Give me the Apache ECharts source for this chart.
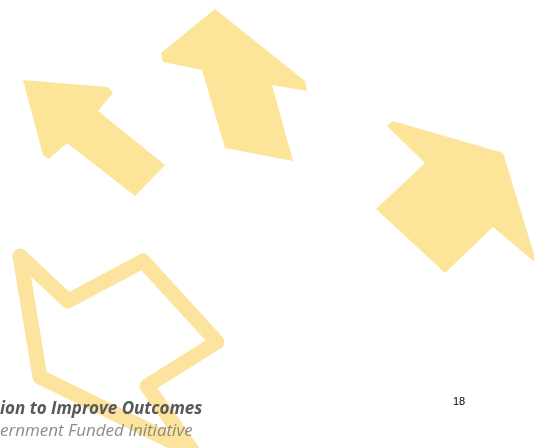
<!DOCTYPE html>
<html>
<head>
<meta charset="utf-8">
<script src="https://cdn.jsdelivr.net/npm/echarts@6/dist/echarts.min.js"></script>
<style>
html,body{margin:0;padding:0;background:#fff;}
#main{width:534px;height:448px;}
</style>
</head>
<body>
<div id="main"></div>
<script>
// Shape vertices in slide units (x: 0..534, y: 0..448 from the top)
const arrowUpLeft = [[23,80],[108,87],[113,93],[98,111],[165,165],[135,196],[67,143],[49,159],[43,155]];
const arrowUp = [[215,9],[305,81],[307,91],[272,85],[293,161],[225,148],[202,70],[163,62],[161,53]];
const arrowRight = [[393,121],[503,153],[537,264],[493,227],[445,273],[376,209],[425,163],[387,126]];
const arrowOutline = [[20,256],[68,301],[143,261],[217,342],[147,386],[193,452],[40,377]];
const filledShapes = [arrowUpLeft, arrowUp, arrowRight];
const outlineShapes = [arrowOutline];
const footerLine1 = 'ion to Improve Outcomes';
const footerLine2 = 'ernment Funded Initiative';
const pageNumber = '18';

const chart = echarts.init(document.getElementById('main'));

function polyRender(fill) {
  return function (params, api) {
    const shape = (fill ? filledShapes : outlineShapes)[params.dataIndex];
    const pts = shape.map(p => api.coord(p));
    return {
      type: 'polygon',
      shape: { points: pts },
      style: fill
        ? { fill: '#FCE598', stroke: null }
        : { fill: 'none', stroke: '#FDE49E', lineWidth: 15, lineJoin: 'round' },
      silent: true
    };
  };
}

chart.setOption({
  animation: false,
  backgroundColor: '#ffffff',
  grid: { left: 0, right: 0, top: 0, bottom: 0 },
  xAxis: { type: 'value', min: 0, max: 534, show: false },
  yAxis: { type: 'value', min: 0, max: 448, inverse: true, show: false },
  series: [
    {
      type: 'custom',
      renderItem: polyRender(true),
      data: filledShapes.map((s, i) => [i]),
      clip: false,
      z: 1
    },
    {
      type: 'custom',
      renderItem: polyRender(false),
      data: outlineShapes.map((s, i) => [i]),
      clip: false,
      z: 1
    }
  ],
  graphic: [
    {
      type: 'text', left: 0, top: 401, z: 10,
      style: { text: footerLine1, fill: '#58585a', font: 'italic 700 17px "Open Sans", sans-serif' }
    },
    {
      type: 'text', left: 0, top: 423, z: 10,
      style: { text: footerLine2, fill: 'rgba(120,120,120,0.85)', font: 'italic 400 17px "Open Sans", sans-serif' }
    },
    {
      type: 'text', left: 453, top: 396, z: 10,
      style: { text: pageNumber, fill: '#000000', font: '11px "Liberation Sans", Arial, sans-serif' }
    }
  ]
});
</script>
</body>
</html>
